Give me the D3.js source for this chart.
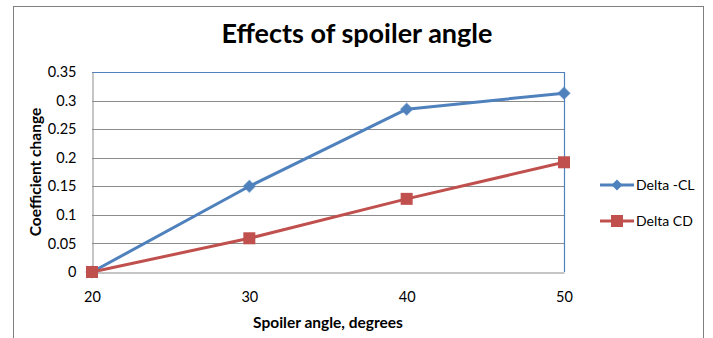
<!DOCTYPE html>
<html>
<head>
<meta charset="utf-8">
<script src="https://cdn.jsdelivr.net/npm/d3@7"></script>
<style>
  html, body { margin: 0; padding: 0; background: #fff; }
  svg { display: block; font-family: Lato, "Open Sans", "Liberation Sans", sans-serif; }
</style>
</head>
<body>
<svg id="chart" width="713" height="338"></svg>
<script>
// Spoiler angle categories (degrees)
const angles = [20, 30, 40, 50];
// Change in coefficients relative to the 20° baseline
const deltaCL = [0, 0.15, 0.285, 0.313];
const deltaCD = [0, 0.059, 0.128, 0.192];
const yTicks = [0, 0.05, 0.1, 0.15, 0.2, 0.25, 0.3, 0.35];
const seriesNames = ["Delta -CL", "Delta CD"];

const blue = "#4F81BD", red = "#C0504D", grid = "#8C8C8C";
const font = "Lato, 'Open Sans', sans-serif";

const svg = d3.select("#chart");

// outer chart frame
svg.append("rect")
  .attr("x", 13.5).attr("y", 6.5).attr("width", 690).attr("height", 360)
  .attr("fill", "#fff").attr("stroke", "#7f7f7f").attr("stroke-width", 1);

const plot = { left: 92, right: 564, top: 72, bottom: 272 };

const x = d3.scalePoint().domain(angles).range([plot.left, plot.right]);
const y = d3.scaleLinear().domain([0, 0.35]).range([plot.bottom, plot.top]);

// horizontal gridlines
svg.append("g")
  .selectAll("line")
  .data(yTicks.slice(1, -1))
  .join("line")
  .attr("x1", plot.left).attr("x2", plot.right)
  .attr("y1", d => Math.round(y(d)) + 0.5).attr("y2", d => Math.round(y(d)) + 0.5)
  .attr("stroke", grid).attr("stroke-width", 1);

// plot-area border (top and right)
svg.append("path")
  .attr("d", `M${plot.left},${plot.top + 0.5}H${plot.right + 0.5}V${plot.bottom}`)
  .attr("fill", "none").attr("stroke", blue).attr("stroke-width", 1.2);

// axes
const yAxis = d3.axisLeft(y).tickValues(yTicks).tickSize(0).tickPadding(16)
  .tickFormat(d => d3.format("")(+d.toFixed(2)));
const gy = svg.append("g").attr("transform", `translate(${plot.left + 0.5},0)`).call(yAxis);
gy.select(".domain").attr("stroke", grid);
gy.selectAll("text").attr("font-size", 14.5).attr("fill", "#000").attr("font-family", font);

const xAxis = d3.axisBottom(x).tickSize(0).tickPadding(19);
const gx = svg.append("g").attr("transform", `translate(0,${plot.bottom + 0.5})`).call(xAxis);
gx.select(".domain").attr("stroke", grid);
gx.selectAll("text").attr("font-size", 14.5).attr("fill", "#000").attr("font-family", font);

// series lines
const line = d3.line().x((d, i) => x(angles[i])).y(d => y(d));
svg.append("path").datum(deltaCL).attr("d", line)
  .attr("fill", "none").attr("stroke", blue).attr("stroke-width", 3).attr("stroke-linejoin", "round");
svg.append("path").datum(deltaCD).attr("d", line)
  .attr("fill", "none").attr("stroke", red).attr("stroke-width", 3).attr("stroke-linejoin", "round");

// markers
const diamond = (cx, cy, r) => `M${cx},${cy - r}L${cx + r},${cy}L${cx},${cy + r}L${cx - r},${cy}Z`;
svg.append("g").selectAll("path").data(deltaCL).join("path")
  .attr("d", (d, i) => diamond(x(angles[i]), y(d), 6))
  .attr("fill", blue).attr("stroke", blue).attr("stroke-width", 1.2).attr("stroke-opacity", 0.5);
svg.append("g").selectAll("rect").data(deltaCD).join("rect")
  .attr("x", (d, i) => x(angles[i]) - 6).attr("y", d => y(d) - 6)
  .attr("width", 12).attr("height", 12).attr("fill", red);

// legend
const legend = svg.append("g");
const legY = [185, 221];
seriesNames.forEach((name, i) => {
  const col = i === 0 ? blue : red;
  legend.append("line").attr("x1", 600).attr("x2", 634).attr("y1", legY[i]).attr("y2", legY[i])
    .attr("stroke", col).attr("stroke-width", 3);
  if (i === 0) {
    legend.append("path").attr("d", diamond(617, legY[i], 5.5)).attr("fill", col);
  } else {
    legend.append("rect").attr("x", 611).attr("y", legY[i] - 6).attr("width", 12).attr("height", 12).attr("fill", col);
  }
  legend.append("text").attr("x", 636).attr("y", legY[i]).attr("dy", "0.35em")
    .attr("font-size", 14).attr("fill", "#000").text(name);
});

// title
svg.append("text").attr("x", 357).attr("y", 43).attr("text-anchor", "middle")
  .attr("font-size", 27).attr("font-weight", "bold").attr("fill", "#000")
  .text("Effects of spoiler angle");

// axis titles
svg.append("text").attr("x", 328).attr("y", 328).attr("text-anchor", "middle")
  .attr("font-size", 15.5).attr("font-weight", "bold").attr("fill", "#000")
  .text("Spoiler angle, degrees");
svg.append("text").attr("transform", `translate(41,${(plot.top + plot.bottom) / 2}) rotate(-90)`)
  .attr("text-anchor", "middle")
  .attr("font-size", 15.5).attr("font-weight", "bold").attr("fill", "#000")
  .text("Coefficient change");
</script>
</body>
</html>
